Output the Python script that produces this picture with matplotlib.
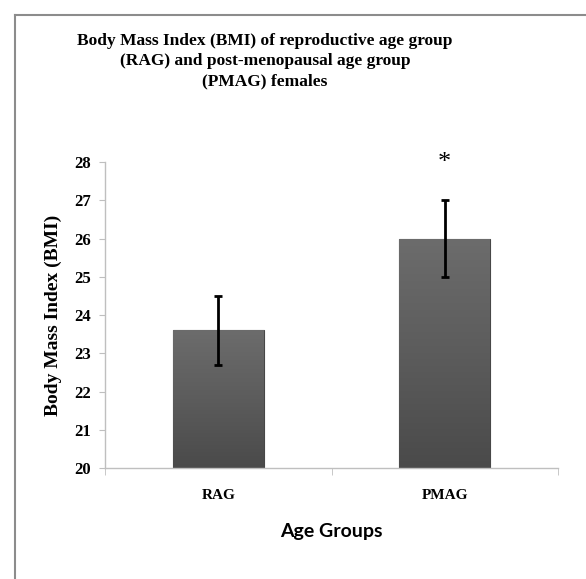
import numpy as np
import matplotlib
matplotlib.use('Agg')
import matplotlib.pyplot as plt
from matplotlib.lines import Line2D

# Data
groups = ['RAG', 'PMAG']
bmi_mean = [23.6, 26.0]
bmi_err = [0.9, 1.0]
y_ticks = [20, 21, 22, 23, 24, 25, 26, 27, 28]

serif = ['Liberation Serif', 'DejaVu Serif']

fig = plt.figure(figsize=(5.86, 5.79), dpi=100)
ax = fig.add_axes([0.1792, 0.1917, 0.7730, 0.5285])

x = np.arange(len(groups))
bars = ax.bar(x, [m - 20 for m in bmi_mean], width=0.4, bottom=20,
              color='#5a5a5a', edgecolor='#474747', linewidth=0.8, zorder=2)

# vertical gradient fill for each bar
cmap = matplotlib.colors.LinearSegmentedColormap.from_list(
    'g', ['#4a4a4a', '#5c5c5c', '#6c6c6c'])
grad = np.linspace(0, 1, 256).reshape(-1, 1)
for b in bars:
    x0, y0 = b.get_x(), b.get_y()
    w, h = b.get_width(), b.get_height()
    im = ax.imshow(grad, cmap=cmap, origin='lower', aspect='auto',
                   extent=[x0, x0 + w, y0, y0 + h], zorder=2.5)
    im.set_clip_path(b)

ax.errorbar(x, bmi_mean, yerr=bmi_err, fmt='none', ecolor='black',
            elinewidth=2, capsize=3, capthick=2, zorder=3)

ax.text(1, 27.98, '*', ha='center', va='center', fontsize=19,
        family=serif, clip_on=False)

ax.set_xlim(-0.5, 1.5)
ax.set_ylim(20, 28)
ax.set_yticks(y_ticks)
ax.set_yticklabels([str(t) for t in y_ticks], family=serif,
                   fontweight='bold', fontsize=12)
ax.set_xticks(x)
ax.set_xticklabels(groups, family=serif, fontweight='bold', fontsize=11)
ax.set_xticks([-0.5, 0.5, 1.5], minor=True)
ax.tick_params(axis='x', which='major', length=0, pad=15)
ax.tick_params(axis='x', which='minor', length=5, color='#bfbfbf')
ax.tick_params(axis='y', length=4, color='#bfbfbf', pad=6)

for s in ['top', 'right']:
    ax.spines[s].set_visible(False)
for s in ['left', 'bottom']:
    ax.spines[s].set_color('#bfbfbf')
    ax.spines[s].set_linewidth(1)

ax.set_ylabel('Body Mass Index (BMI)', family=serif, fontweight='bold',
              fontsize=14, labelpad=9)
ax.set_xlabel('Age Groups', family=['Lato', 'DejaVu Sans'], fontweight='bold',
              fontsize=14, labelpad=15)

fig.text(0.452, 0.8946,
         'Body Mass Index (BMI) of reproductive age group\n'
         '(RAG) and post-menopausal age group\n(PMAG) females',
         ha='center', va='center', family=serif, fontweight='bold',
         fontsize=12.5, linespacing=1.35)

# chart-area border (left and top edges visible)
fig.add_artist(Line2D([0.0256, 0.0256], [0.0, 0.974], color='#8c8c8c',
                      lw=1.5, transform=fig.transFigure))
fig.add_artist(Line2D([0.0256, 1.0], [0.974, 0.974], color='#8c8c8c',
                      lw=1.5, transform=fig.transFigure))

fig.savefig('out.png', dpi=100, facecolor='white')
